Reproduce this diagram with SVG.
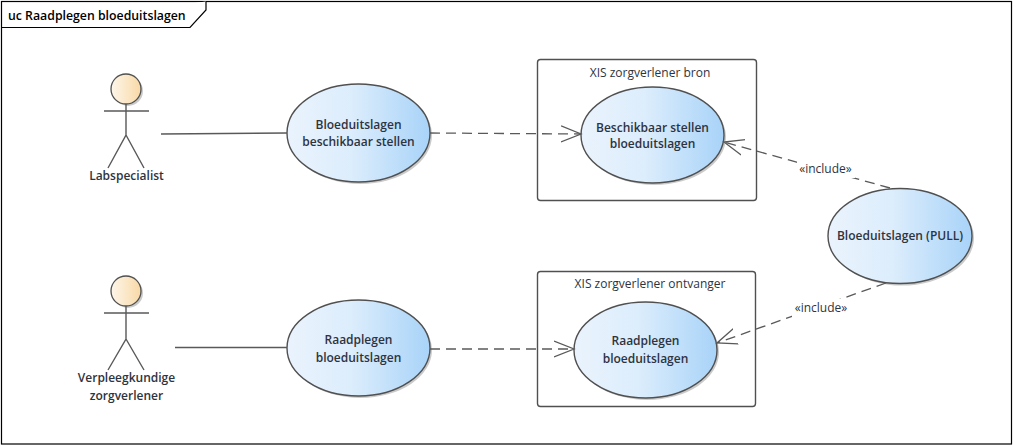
<svg xmlns="http://www.w3.org/2000/svg" width="1016" height="447" viewBox="0 0 1016 447">
<defs>
<linearGradient id="uc" x1="0" x2="1" y1="0" y2="0"><stop offset="0" stop-color="#eaf3fd"/><stop offset="0.45" stop-color="#dcedfc"/><stop offset="1" stop-color="#a8d3f8"/></linearGradient>
<linearGradient id="head" x1="0" x2="1" y1="0" y2="0"><stop offset="0" stop-color="#fdf6ea"/><stop offset="1" stop-color="#f9d9a6"/></linearGradient>
<marker id="open" markerUnits="userSpaceOnUse" markerWidth="22" markerHeight="22" viewBox="-20 -11 22 22" refX="0" refY="0" orient="auto"><path d="M-20,-8 L0,0 L-20,8" fill="none" stroke="#595959" stroke-width="1.3"/></marker>
</defs>
<style>
text{font-family:"Open Sans","Noto Sans","Liberation Sans",sans-serif;font-size:12px;fill:#2e3340;text-anchor:middle}
.b{font-weight:600}
.uc{fill:url(#uc);stroke:#505050;stroke-width:1.4}
.sh{fill:#b4b4b4;opacity:.7}
.box{fill:#fff;stroke:#505050;stroke-width:1.4}
.ln{fill:none;stroke:#595959;stroke-width:1.4}
.dash{fill:none;stroke:#595959;stroke-width:1.3;stroke-dasharray:10 6}
.head{fill:url(#head);stroke:#505050;stroke-width:1.3}
</style>
<rect width="1016" height="447" fill="#fff"/>
<g id="frame">
<rect x="1.5" y="1.5" width="1010" height="442.5" fill="none" stroke="#000" stroke-width="1.2"/>
<path d="M1.5,27.5 H190 L206,10 V1.5" fill="#fff" stroke="#000" stroke-width="1.2"/>
<text x="8" y="19.5" style="text-anchor:start;font-size:12.3px;fill:#000" class="b">uc Raadplegen bloeduitslagen</text>
</g>
<g id="box-bron"><rect class="box" x="537.5" y="59.5" width="219" height="141" rx="3"/><text x="650" y="77">XIS zorgverlener bron</text></g>
<g id="box-ontvanger"><rect class="box" x="537.5" y="271.5" width="218" height="135" rx="3"/><text x="650" y="288">XIS zorgverlener ontvanger</text></g>
<g id="actor-lab">
<circle class="sh" cx="128" cy="91" r="15"/><circle class="head" cx="126" cy="89" r="15"/>
<path class="ln" d="M104,111 H149 M126,104 V135 L108,168 M126,135 L144,168"/>
<text class="b" x="126.500" y="180">Labspecialist</text>
</g>
<g id="actor-verpleeg">
<circle class="sh" cx="128" cy="293" r="15"/><circle class="head" cx="126" cy="291" r="15"/>
<path class="ln" d="M104,313 H149 M126,306 V339 L108,370 M126,339 L144,370"/>
<text class="b" x="126.500" y="382">Verpleegkundige</text><text class="b" x="126.500" y="400">zorgverlener</text>
</g>
<g id="uc-beschikbaar"><ellipse class="sh" cx="360.500" cy="135" rx="71.500" ry="49"/><ellipse class="uc" cx="358.500" cy="133" rx="71.500" ry="49"/><text class="b" x="358.500" y="128.500">Bloeduitslagen</text><text class="b" x="358.500" y="145.500">beschikbaar stellen</text></g>
<g id="uc-bron"><ellipse class="sh" cx="654.500" cy="137" rx="71.500" ry="48"/><ellipse class="uc" cx="652.500" cy="135" rx="71.500" ry="48"/><text class="b" x="652.500" y="131.500">Beschikbaar stellen</text><text class="b" x="652.500" y="148">bloeduitslagen</text></g>
<g id="uc-pull"><ellipse class="sh" cx="902" cy="238" rx="72" ry="47.500"/><ellipse class="uc" cx="900" cy="236" rx="72" ry="47.500"/><text class="b" x="900" y="240">Bloeduitslagen (PULL)</text></g>
<g id="uc-raadplegen"><ellipse class="sh" cx="360.500" cy="350" rx="71.500" ry="48"/><ellipse class="uc" cx="358.500" cy="348" rx="71.500" ry="48"/><text class="b" x="358.500" y="344">Raadplegen</text><text class="b" x="358.500" y="362">bloeduitslagen</text></g>
<g id="uc-ontvanger"><ellipse class="sh" cx="647.500" cy="352" rx="71.500" ry="48"/><ellipse class="uc" cx="645.500" cy="350" rx="71.500" ry="48"/><text class="b" x="645.500" y="345">Raadplegen</text><text class="b" x="645.500" y="363">bloeduitslagen</text></g>
<g id="connectors">
<path class="ln" d="M161,134 L287,133"/>
<path class="ln" d="M175,347.500 H287"/>
<path class="dash" d="M430,133 L581,134" marker-end="url(#open)"/>
<path class="dash" d="M430,349 L574,349" marker-end="url(#open)"/>
<path class="dash" d="M890,188 L724,142" marker-end="url(#open)"/>
<path class="dash" d="M886,283 L717,343" marker-end="url(#open)"/>
<rect x="797" y="160" width="58" height="18" fill="#fff"/>
<rect x="792" y="299" width="58" height="18" fill="#fff"/>
<text x="825.500" y="173">«include»</text>
<text x="821" y="312">«include»</text>
</g>
</svg>
